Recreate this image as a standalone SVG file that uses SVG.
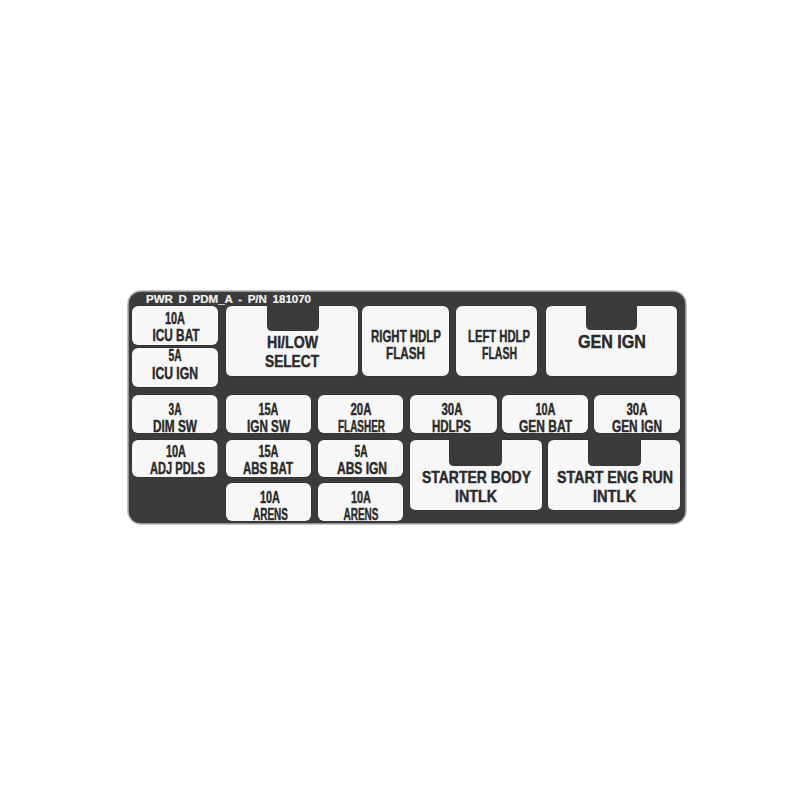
<svg xmlns="http://www.w3.org/2000/svg" width="811" height="811" viewBox="0 0 811 811">
<style>
.panel{fill:#3b3b3b;stroke:#b4b4b4;stroke-width:1.5}
.box{fill:#f7f7f7;stroke:#2e2e2e;stroke-width:1;paint-order:stroke}
text{font-family:"Liberation Sans",Arial,sans-serif;font-weight:bold;fill:#2a2a2a;stroke:#2a2a2a;stroke-width:0.45;text-anchor:middle}
.s{font-size:16.5px}
.m{font-size:17px}
.l{font-size:18.5px}
.title{font-size:11.5px;fill:#f2f2f2;stroke:#f2f2f2;stroke-width:0.2;text-anchor:start;word-spacing:2.5px}
</style>
<rect x="0" y="0" width="811" height="811" fill="#ffffff"/>
<rect class="panel" x="128" y="291" width="558" height="233" rx="13"/>
<text class="title" x="146" y="303" textLength="165" lengthAdjust="spacingAndGlyphs">PWR D PDM_A - P/N 181070</text>

<g id="icu-bat"><rect class="box" x="132" y="306" width="86" height="39" rx="6"/>
<text class="s" x="175" y="324" textLength="20" lengthAdjust="spacingAndGlyphs">10A</text>
<text class="s" x="176" y="341" textLength="47" lengthAdjust="spacingAndGlyphs">ICU BAT</text></g>

<g id="icu-ign"><rect class="box" x="132" y="348" width="86" height="39" rx="6"/>
<text class="s" x="175" y="361" textLength="13" lengthAdjust="spacingAndGlyphs">5A</text>
<text class="s" x="175" y="379" textLength="46" lengthAdjust="spacingAndGlyphs">ICU IGN</text></g>

<g id="hi-low-select"><path class="box" d="M232,306 H267 V326 Q267,331 272,331 H314 Q319,331 319,326 V306 H352 Q358,306 358,312 V370 Q358,376 352,376 H232 Q226,376 226,370 V312 Q226,306 232,306 Z"/>
<text class="m" x="292.5" y="348" textLength="51" lengthAdjust="spacingAndGlyphs">HI/LOW</text>
<text class="m" x="292" y="367" textLength="54" lengthAdjust="spacingAndGlyphs">SELECT</text></g>

<g id="right-hdlp-flash"><rect class="box" x="362" y="306" width="87" height="70" rx="6"/>
<text class="s" x="406" y="342" textLength="70" lengthAdjust="spacingAndGlyphs">RIGHT HDLP</text>
<text class="s" x="405.5" y="358.5" textLength="39" lengthAdjust="spacingAndGlyphs">FLASH</text></g>

<g id="left-hdlp-flash"><rect class="box" x="456" y="306" width="81" height="70" rx="6"/>
<text class="s" x="499" y="342" textLength="62" lengthAdjust="spacingAndGlyphs">LEFT HDLP</text>
<text class="s" x="499.5" y="359" textLength="35" lengthAdjust="spacingAndGlyphs">FLASH</text></g>

<g id="gen-ign-big"><path class="box" d="M552,306 H586 V325 Q586,330 591,330 H632 Q637,330 637,325 V306 H671 Q677,306 677,312 V370 Q677,376 671,376 H552 Q546,376 546,370 V312 Q546,306 552,306 Z"/>
<text class="l" x="612" y="348" textLength="68" lengthAdjust="spacingAndGlyphs">GEN IGN</text></g>

<g id="dim-sw"><rect class="box" x="132" y="395" width="85.5" height="38" rx="6"/>
<text class="s" x="175" y="415" textLength="13" lengthAdjust="spacingAndGlyphs">3A</text>
<text class="s" x="175" y="432" textLength="44" lengthAdjust="spacingAndGlyphs">DIM SW</text></g>

<g id="ign-sw"><rect class="box" x="226" y="395" width="85" height="38" rx="6"/>
<text class="s" x="268.5" y="415" textLength="20" lengthAdjust="spacingAndGlyphs">15A</text>
<text class="s" x="268.5" y="432" textLength="43" lengthAdjust="spacingAndGlyphs">IGN SW</text></g>

<g id="flasher"><rect class="box" x="318" y="395" width="85" height="38" rx="6"/>
<text class="s" x="361" y="415" textLength="21" lengthAdjust="spacingAndGlyphs">20A</text>
<text class="s" x="361.5" y="432" textLength="47" lengthAdjust="spacingAndGlyphs">FLASHER</text></g>

<g id="hdlps"><rect class="box" x="410" y="395" width="87" height="38" rx="6"/>
<text class="s" x="452" y="415" textLength="21" lengthAdjust="spacingAndGlyphs">30A</text>
<text class="s" x="451.5" y="432" textLength="39" lengthAdjust="spacingAndGlyphs">HDLPS</text></g>

<g id="gen-bat"><rect class="box" x="502" y="395" width="86" height="38" rx="6"/>
<text class="s" x="545.5" y="415" textLength="20" lengthAdjust="spacingAndGlyphs">10A</text>
<text class="s" x="545.5" y="432" textLength="53" lengthAdjust="spacingAndGlyphs">GEN BAT</text></g>

<g id="gen-ign-small"><rect class="box" x="594" y="395" width="86" height="38" rx="6"/>
<text class="s" x="637" y="415" textLength="21" lengthAdjust="spacingAndGlyphs">30A</text>
<text class="s" x="637" y="432" textLength="50" lengthAdjust="spacingAndGlyphs">GEN IGN</text></g>

<g id="adj-pdls"><rect class="box" x="132" y="440" width="85.5" height="37" rx="6"/>
<text class="s" x="176" y="457" textLength="20" lengthAdjust="spacingAndGlyphs">10A</text>
<text class="s" x="177.5" y="473.5" textLength="55" lengthAdjust="spacingAndGlyphs">ADJ PDLS</text></g>

<g id="abs-bat"><rect class="box" x="226" y="440" width="85" height="37" rx="6"/>
<text class="s" x="268.5" y="457" textLength="20" lengthAdjust="spacingAndGlyphs">15A</text>
<text class="s" x="268" y="473.5" textLength="50" lengthAdjust="spacingAndGlyphs">ABS BAT</text></g>

<g id="abs-ign"><rect class="box" x="318" y="440" width="85" height="37" rx="6"/>
<text class="s" x="361" y="457" textLength="13" lengthAdjust="spacingAndGlyphs">5A</text>
<text class="s" x="362" y="473.5" textLength="50" lengthAdjust="spacingAndGlyphs">ABS IGN</text></g>

<g id="arens-1"><rect class="box" x="226" y="483" width="85" height="38" rx="6"/>
<text class="s" x="270" y="503" textLength="20" lengthAdjust="spacingAndGlyphs">10A</text>
<text class="s" x="270.5" y="519.5" textLength="35" lengthAdjust="spacingAndGlyphs">ARENS</text></g>

<g id="arens-2"><rect class="box" x="318" y="483" width="85" height="38" rx="6"/>
<text class="s" x="361" y="503" textLength="20" lengthAdjust="spacingAndGlyphs">10A</text>
<text class="s" x="361" y="519.5" textLength="35" lengthAdjust="spacingAndGlyphs">ARENS</text></g>

<g id="starter-body-intlk"><path class="box" d="M416,440 H449 V461 Q449,466 454,466 H497 Q502,466 502,461 V440 H536 Q542,440 542,446 V504 Q542,510 536,510 H416 Q410,510 410,504 V446 Q410,440 416,440 Z"/>
<text class="m" x="476.5" y="483" textLength="109" lengthAdjust="spacingAndGlyphs">STARTER BODY</text>
<text class="m" x="476" y="502" textLength="42" lengthAdjust="spacingAndGlyphs">INTLK</text></g>

<g id="start-eng-run-intlk"><path class="box" d="M554,440 H588 V461 Q588,466 593,466 H636 Q641,466 641,461 V440 H674 Q680,440 680,446 V504 Q680,510 674,510 H554 Q548,510 548,504 V446 Q548,440 554,440 Z"/>
<text class="m" x="615" y="483" textLength="116" lengthAdjust="spacingAndGlyphs">START ENG RUN</text>
<text class="m" x="614.5" y="502" textLength="43" lengthAdjust="spacingAndGlyphs">INTLK</text></g>

<g id="connectors"></g>
</svg>
